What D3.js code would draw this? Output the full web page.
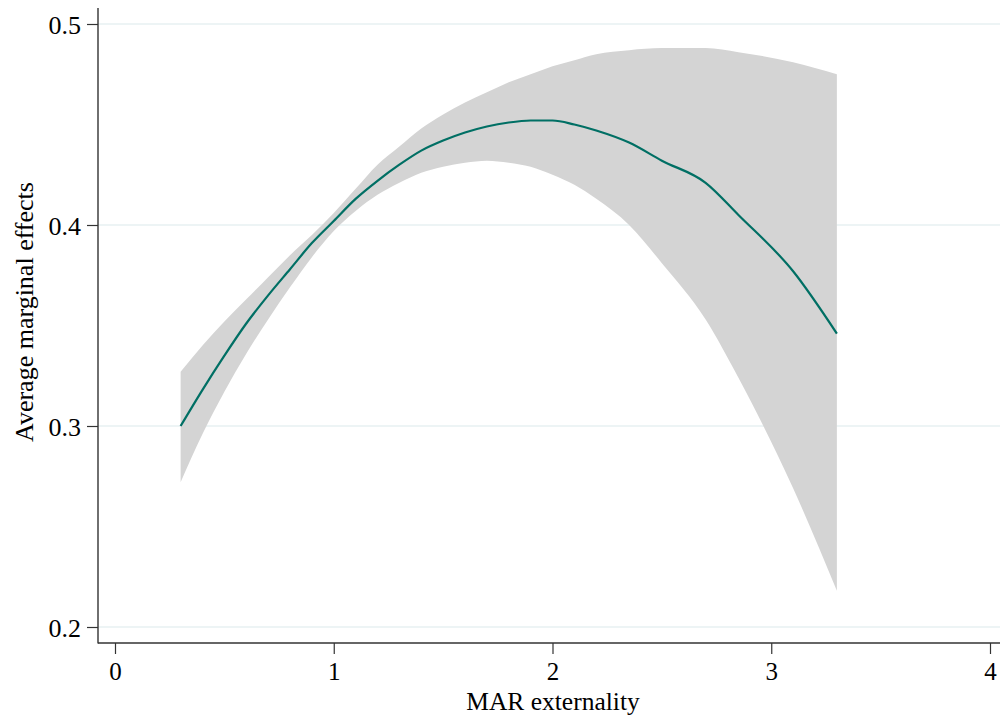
<!DOCTYPE html>
<html>
<head>
<meta charset="utf-8">
<script src="https://cdn.jsdelivr.net/npm/d3@7"></script>
<style>
  html, body { margin: 0; padding: 0; background: #fff; }
  svg { display: block; }
  text { font-family: "Liberation Serif", "Times New Roman", serif; fill: #000; }
</style>
</head>
<body>
<div id="chart"></div>
<script>
// ---- data ----
const xValues = [0.30, 0.40, 0.50, 0.60, 0.70, 0.80, 0.90, 1.00, 1.10, 1.20, 1.30, 1.40, 1.50, 1.60, 1.70, 1.80, 1.90, 2.00, 2.10, 2.20, 2.35, 2.50, 2.70, 2.85, 3.10, 3.30];
const margin = [0.300, 0.318, 0.335, 0.351, 0.365, 0.378, 0.391, 0.402, 0.413, 0.422, 0.430, 0.437, 0.442, 0.446, 0.449, 0.451, 0.452, 0.452, 0.450, 0.447, 0.441, 0.432, 0.421, 0.405, 0.377, 0.346];
const upperCI = [0.327, 0.340, 0.352, 0.363, 0.374, 0.385, 0.395, 0.406, 0.418, 0.430, 0.439, 0.448, 0.455, 0.461, 0.466, 0.471, 0.475, 0.479, 0.482, 0.485, 0.487, 0.488, 0.488, 0.486, 0.481, 0.475];
const lowerCI = [0.272, 0.296, 0.317, 0.336, 0.353, 0.369, 0.384, 0.397, 0.407, 0.415, 0.421, 0.426, 0.429, 0.431, 0.432, 0.431, 0.429, 0.425, 0.420, 0.413, 0.400, 0.381, 0.353, 0.324, 0.269, 0.218];
const xTicks = [0, 1, 2, 3, 4];
const yTicks = [0.2, 0.3, 0.4, 0.5];
const xTitle = "MAR externality";
const yTitle = "Average marginal effects";

// ---- layout ----
const W = 1000, H = 719;
const axisX = 98, axisY = 643;

const svg = d3.select("#chart").append("svg")
  .attr("width", W).attr("height", H);

const x = d3.scaleLinear().domain([0, 4]).range([115, 990]);
const y = d3.scaleLinear().domain([0.2, 0.5]).range([627, 24]);

// gridlines
svg.append("g").selectAll("line").data(yTicks).join("line")
  .attr("x1", axisX).attr("x2", W)
  .attr("y1", d => y(d)).attr("y2", d => y(d))
  .attr("stroke", "#e7f0f2").attr("stroke-width", 1.6);

const rows = xValues.map((v, i) => ({ x: v, m: margin[i], lo: lowerCI[i], hi: upperCI[i] }));

// confidence band
svg.append("path").datum(rows)
  .attr("d", d3.area().x(d => x(d.x)).y0(d => y(d.lo)).y1(d => y(d.hi)).curve(d3.curveMonotoneX))
  .attr("fill", "#d4d4d4").attr("stroke", "none");

// main line
svg.append("path").datum(rows)
  .attr("d", d3.line().x(d => x(d.x)).y(d => y(d.m)).curve(d3.curveMonotoneX))
  .attr("fill", "none").attr("stroke", "#006f64").attr("stroke-width", 2.2);

// axes
const yAxis = d3.axisLeft(y).tickValues(yTicks).tickFormat(d3.format(".1f")).tickSize(11).tickPadding(6);
const gy = svg.append("g").attr("transform", `translate(${axisX},0)`).call(yAxis);
gy.select(".domain").remove();
gy.selectAll(".tick line").attr("stroke", "#333").attr("stroke-width", 1.2);
gy.selectAll(".tick text").attr("font-size", 26).attr("font-family", "Liberation Serif, serif").attr("fill", "#000").attr("dy", "0.35em");

const xAxis = d3.axisBottom(x).tickValues(xTicks).tickFormat(d3.format("d")).tickSize(11).tickPadding(8);
const gx = svg.append("g").attr("transform", `translate(0,${axisY})`).call(xAxis);
gx.select(".domain").remove();
gx.selectAll(".tick line").attr("stroke", "#333").attr("stroke-width", 1.2);
gx.selectAll(".tick text").attr("font-size", 25).attr("font-family", "Liberation Serif, serif").attr("fill", "#000");

// axis lines
svg.append("line").attr("x1", axisX).attr("x2", axisX).attr("y1", 8).attr("y2", axisY + 0.5)
  .attr("stroke", "#333").attr("stroke-width", 1.4);
svg.append("line").attr("x1", axisX).attr("x2", W).attr("y1", axisY).attr("y2", axisY)
  .attr("stroke", "#333").attr("stroke-width", 1.4);

// titles
svg.append("text").attr("x", 553).attr("y", 710).attr("text-anchor", "middle")
  .attr("font-size", 25.5).text(xTitle);
svg.append("text").attr("transform", "translate(33,312) rotate(-90)").attr("text-anchor", "middle")
  .attr("font-size", 26).text(yTitle);
</script>
</body>
</html>
